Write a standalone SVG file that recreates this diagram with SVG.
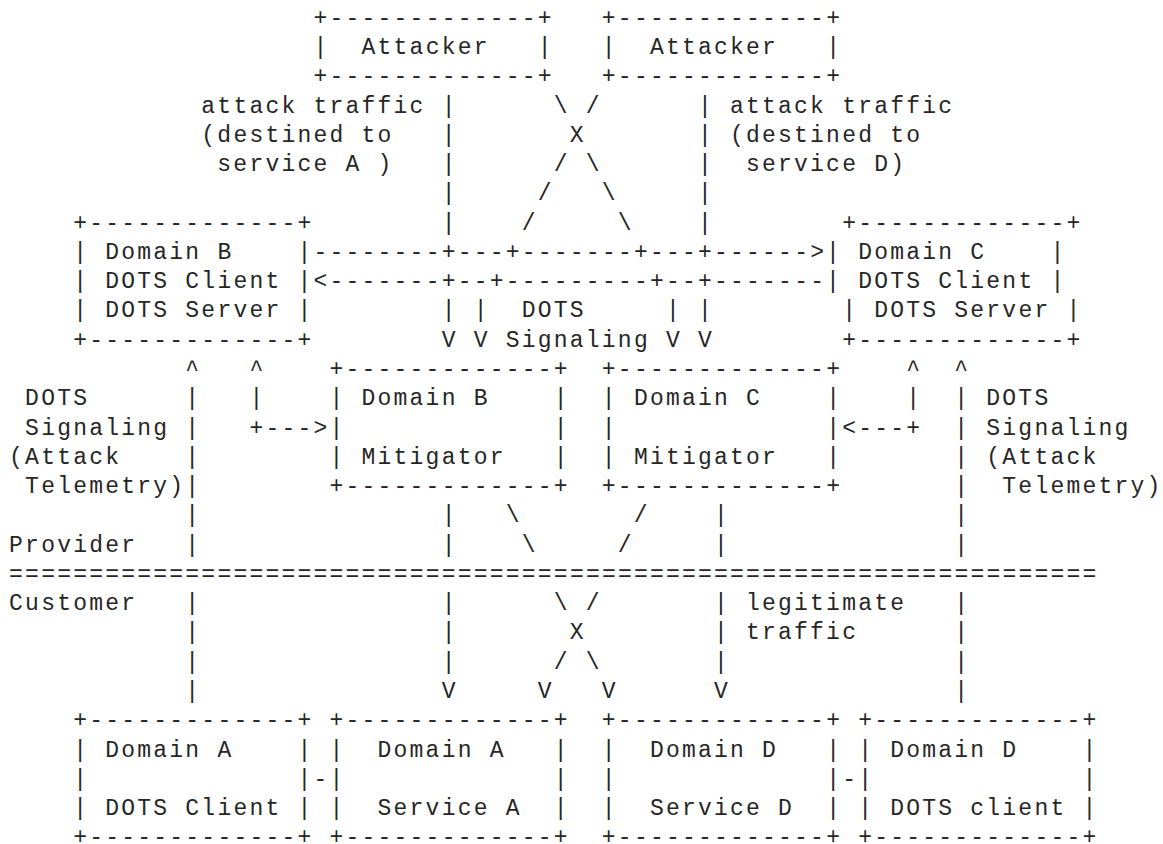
<svg xmlns="http://www.w3.org/2000/svg" width="1163" height="844" viewBox="0 0 1163 844" xml:space="preserve">
  <style>
    text { font-family: "Liberation Mono", "DejaVu Sans Mono", monospace; font-size: 23px; letter-spacing: 2.22px; fill: #262626; white-space: pre; }
  </style>
  <rect width="1163" height="844" fill="#ffffff"/>
  <!-- character grid: 16.02px columns, 29.27px rows -->
  <g transform="translate(9.1,24.8)">
    <g id="attacker-1">
      <text x="304.38" y="0">+-------------+</text>
      <text x="304.38" y="29.27">|  Attacker   |</text>
      <text x="304.38" y="58.54">+-------------+</text>
    </g>
    <g id="attacker-2">
      <text x="592.74" y="0">+-------------+</text>
      <text x="592.74" y="29.27">|  Attacker   |</text>
      <text x="592.74" y="58.54">+-------------+</text>
    </g>
    <g id="attack-traffic-labels">
      <text x="192.24" y="87.81">attack traffic</text>
      <text x="192.24" y="117.08">(destined to</text>
      <text x="208.26" y="146.35">service A )</text>
      <text x="720.9" y="87.81">attack traffic</text>
      <text x="720.9" y="117.08">(destined to</text>
      <text x="736.92" y="146.35">service D)</text>
    </g>
    <g id="domain-b-dots">
      <text x="64.08" y="204.89">+-------------+</text>
      <text x="64.08" y="234.16">| Domain B    |</text>
      <text x="64.08" y="263.43">| DOTS Client |</text>
      <text x="64.08" y="292.7">| DOTS Server |</text>
      <text x="64.08" y="321.97">+-------------+</text>
    </g>
    <g id="domain-c-dots">
      <text x="833.04" y="204.89">+-------------+</text>
      <text x="817.02" y="234.16">| Domain C    |</text>
      <text x="817.02" y="263.43">| DOTS Client |</text>
      <text x="833.04" y="292.7">| DOTS Server |</text>
      <text x="833.04" y="321.97">+-------------+</text>
    </g>
    <g id="domain-b-mitigator">
      <text x="320.4" y="351.24">+-------------+</text>
      <text x="320.4" y="380.51">| Domain B    |</text>
      <text x="320.4" y="409.78">|             |</text>
      <text x="320.4" y="439.05">| Mitigator   |</text>
      <text x="320.4" y="468.32">+-------------+</text>
    </g>
    <g id="domain-c-mitigator">
      <text x="592.74" y="351.24">+-------------+</text>
      <text x="592.74" y="380.51">| Domain C    |</text>
      <text x="592.74" y="409.78">|             |</text>
      <text x="592.74" y="439.05">| Mitigator   |</text>
      <text x="592.74" y="468.32">+-------------+</text>
    </g>
    <g id="domain-a-client">
      <text x="64.08" y="702.48">+-------------+</text>
      <text x="64.08" y="731.75">| Domain A    |</text>
      <text x="64.08" y="761.02">|             |</text>
      <text x="64.08" y="790.29">| DOTS Client |</text>
      <text x="64.08" y="819.56">+-------------+</text>
    </g>
    <g id="domain-a-service">
      <text x="320.4" y="702.48">+-------------+</text>
      <text x="320.4" y="731.75">|  Domain A   |</text>
      <text x="320.4" y="761.02">|             |</text>
      <text x="320.4" y="790.29">|  Service A  |</text>
      <text x="320.4" y="819.56">+-------------+</text>
    </g>
    <g id="domain-d-service">
      <text x="592.74" y="702.48">+-------------+</text>
      <text x="592.74" y="731.75">|  Domain D   |</text>
      <text x="592.74" y="761.02">|             |</text>
      <text x="592.74" y="790.29">|  Service D  |</text>
      <text x="592.74" y="819.56">+-------------+</text>
    </g>
    <g id="domain-d-client">
      <text x="849.06" y="702.48">+-------------+</text>
      <text x="849.06" y="731.75">| Domain D    |</text>
      <text x="849.06" y="761.02">|             |</text>
      <text x="849.06" y="790.29">| DOTS client |</text>
      <text x="849.06" y="819.56">+-------------+</text>
    </g>
    <g id="signaling-labels">
      <text x="512.64" y="292.7">DOTS</text>
      <text x="496.62" y="321.97">Signaling</text>
      <text x="16.02" y="380.51">DOTS</text>
      <text x="16.02" y="409.78">Signaling</text>
      <text x="0" y="439.05">(Attack</text>
      <text x="16.02" y="468.32">Telemetry)</text>
      <text x="977.22" y="380.51">DOTS</text>
      <text x="977.22" y="409.78">Signaling</text>
      <text x="977.22" y="439.05">(Attack</text>
      <text x="993.24" y="468.32">Telemetry)</text>
    </g>
    <g id="zone-labels">
      <text x="0" y="526.86">Provider</text>
      <text x="0" y="585.4">Customer</text>
    </g>
    <g id="legitimate-traffic-label">
      <text x="736.92" y="585.4">legitimate</text>
      <text x="736.92" y="614.67">traffic</text>
    </g>
    <g id="connectors">
      <!-- attacker links, crossing above the signaling channel -->
      <text x="432.54" y="87.81">|</text>
      <text x="544.68" y="87.81">\ /</text>
      <text x="688.86" y="87.81">|</text>
      <text x="432.54" y="117.08">|</text>
      <text x="560.7" y="117.08">X</text>
      <text x="688.86" y="117.08">|</text>
      <text x="432.54" y="146.35">|</text>
      <text x="544.68" y="146.35">/ \</text>
      <text x="688.86" y="146.35">|</text>
      <text x="432.54" y="175.62">|</text>
      <text x="528.66" y="175.62">/</text>
      <text x="592.74" y="175.62">\</text>
      <text x="688.86" y="175.62">|</text>
      <text x="432.54" y="204.89">|</text>
      <text x="512.64" y="204.89">/</text>
      <text x="608.76" y="204.89">\</text>
      <text x="688.86" y="204.89">|</text>
      <!-- signaling channel between Domain B and Domain C -->
      <text x="304.38" y="234.16">--------+---+-------+---+------&gt;</text>
      <text x="304.38" y="263.43">&lt;-------+--+---------+--+-------</text>
      <text x="432.54" y="292.7">| |</text>
      <text x="656.82" y="292.7">| |</text>
      <text x="432.54" y="321.97">V V</text>
      <text x="656.82" y="321.97">V V</text>
      <!-- telemetry and mitigator control links -->
      <text x="176.22" y="351.24">^   ^</text>
      <text x="897.12" y="351.24">^  ^</text>
      <text x="176.22" y="380.51">|   |</text>
      <text x="897.12" y="380.51">|  |</text>
      <text x="176.22" y="409.78">|</text>
      <text x="240.3" y="409.78">+---&gt;</text>
      <text x="833.04" y="409.78">&lt;---+</text>
      <text x="945.18" y="409.78">|</text>
      <text x="176.22" y="439.05">|</text>
      <text x="945.18" y="439.05">|</text>
      <text x="176.22" y="468.32">|</text>
      <text x="945.18" y="468.32">|</text>
      <!-- provider side -->
      <text x="176.22" y="497.59">|</text>
      <text x="432.54" y="497.59">|</text>
      <text x="496.62" y="497.59">\</text>
      <text x="624.78" y="497.59">/</text>
      <text x="704.88" y="497.59">|</text>
      <text x="945.18" y="497.59">|</text>
      <text x="176.22" y="526.86">|</text>
      <text x="432.54" y="526.86">|</text>
      <text x="512.64" y="526.86">\</text>
      <text x="608.76" y="526.86">/</text>
      <text x="704.88" y="526.86">|</text>
      <text x="945.18" y="526.86">|</text>
      <!-- provider / customer boundary -->
      <text x="0" y="556.13">====================================================================</text>
      <!-- customer side -->
      <text x="176.22" y="585.4">|</text>
      <text x="432.54" y="585.4">|</text>
      <text x="544.68" y="585.4">\ /</text>
      <text x="704.88" y="585.4">|</text>
      <text x="945.18" y="585.4">|</text>
      <text x="176.22" y="614.67">|</text>
      <text x="432.54" y="614.67">|</text>
      <text x="560.7" y="614.67">X</text>
      <text x="704.88" y="614.67">|</text>
      <text x="945.18" y="614.67">|</text>
      <text x="176.22" y="643.94">|</text>
      <text x="432.54" y="643.94">|</text>
      <text x="544.68" y="643.94">/ \</text>
      <text x="704.88" y="643.94">|</text>
      <text x="945.18" y="643.94">|</text>
      <text x="176.22" y="673.21">|</text>
      <text x="432.54" y="673.21">V</text>
      <text x="528.66" y="673.21">V</text>
      <text x="592.74" y="673.21">V</text>
      <text x="704.88" y="673.21">V</text>
      <text x="945.18" y="673.21">|</text>
      <!-- links between neighbouring boxes -->
      <text x="304.38" y="761.02">-</text>
      <text x="833.04" y="761.02">-</text>
    </g>
  </g>
</svg>
